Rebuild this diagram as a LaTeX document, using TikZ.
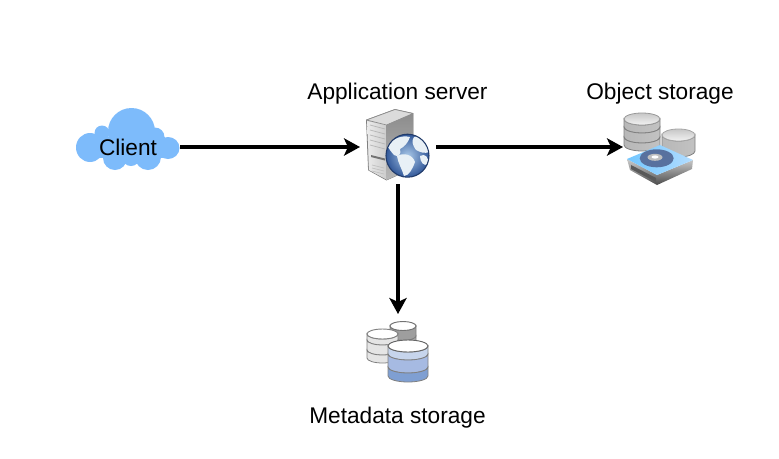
\documentclass[tikz,border=0pt]{standalone}
\usepackage{fontspec}
\setmainfont{Liberation Sans}
\usetikzlibrary{arrows.meta}
\definecolor{cloudblue}{HTML}{7DBBFB}
\definecolor{bandA}{HTML}{C7D5EC}
\definecolor{bandB}{HTML}{A6BAE2}
\definecolor{bandC}{HTML}{7F9FD2}
\definecolor{cont}{HTML}{E8F0F6}
\definecolor{seaIn}{HTML}{A9C8E8}
\definecolor{seaOut}{HTML}{2F5597}
\tikzset{
  lbl/.style={font=\fontsize{17pt}{20pt}\selectfont,text=black,inner sep=0pt},
  iconbox/.style={inner sep=0pt,outer sep=0pt},
  conn/.style={draw=black,line width=2.3pt,-{Stealth[length=12pt,width=13pt,inset=3pt]}},
  cloudlobe/.style={fill=cloudblue},
  silver/.style={left color=black!28,middle color=black!5,right color=black!24},
  flatfill/.style={fill=#1},
}
\newcommand{\myband}[6]{% xl xr ytop ybot ry fill-style
  \pgfmathsetmacro{\rxm}{(#2-#1)/2}
  \path[#6,draw=black!50,line width=.6pt]
    (#1,#3) -- (#1,#4) arc[x radius=\rxm,y radius=-#5,start angle=180,end angle=360] -- (#2,#3)
    arc[x radius=\rxm,y radius=-#5,start angle=360,end angle=180] -- cycle;
}
\begin{document}
\begin{tikzpicture}[x=0.75pt,y=-0.75pt]
\useasboundingbox (0,0) rectangle (779,458);
% ---- cloud
\fill[cloudlobe] (131.5,131.5) circle[radius=23.5];
\fill[cloudlobe] (90,147.5) ellipse[x radius=14,y radius=14.5];
\fill[cloudlobe] (168,148) ellipse[x radius=11.5,y radius=11];
\fill[cloudlobe] (102,133) circle[radius=7.5];
\fill[cloudlobe] (155,137) circle[radius=9.5];
\fill[cloudlobe] (115,158) circle[radius=12];
\fill[cloudlobe] (131,157) circle[radius=9];
\fill[cloudlobe] (148,157) circle[radius=13];
\fill[cloudlobe] (95,137) rectangle (165,158);
% ---- server tower
\path[fill=black!30,draw=black!50,line width=.6pt,line join=round]
  (366.5,120) -- (395,109.5) -- (413,113.5) -- (413,168) -- (386.5,180) -- (368.5,170) -- cycle;
\path[fill=black!14,draw=black!45,line width=.5pt,line join=round]
  (366.5,120) -- (395,109.5) -- (413,113.5) -- (386.5,125) -- cycle;
\path[left color=black!8,right color=black!20] (367.3,121) -- (386.5,125.5) -- (386.5,179.5) -- (369,170) -- cycle;
\path[top color=black!45,bottom color=black!28] (386.5,125) -- (413,113.5) -- (413,168) -- (386.5,180) -- cycle;
\foreach \ya/\yb in {125/129,130/134,135/139,140/144,145/149}{
  \draw[black!30,line width=.5pt] (370,\ya) -- (385,\yb);
}
\path[fill=black!55] (371,155) -- (385,158.5) -- (385,160.5) -- (371,157) -- cycle;
\foreach \ya/\yb in {165/168,168/171,171/174}{
  \draw[black!25,line width=.5pt] (372,\ya) -- (384,\yb);
}
% ---- globe
\begin{scope}
  \clip (407.5,155.7) circle[radius=21.5];
  \shade[inner color=seaIn,outer color=seaOut] (407.5,155.7) circle[radius=22];
  \fill[cont] (388,147) .. controls (392,138) and (402,135) .. (410,137) .. controls (408,143) and (404,147) .. (400,149) .. controls (402,154) and (398,158) .. (394,155) .. controls (392,152) and (389,150) .. (388,147) -- cycle;
  \fill[cont] (414,137) .. controls (420,134) and (428,142) .. (430,152) .. controls (424,154) and (420,152) .. (416,150) .. controls (413,146) and (411,141) .. (414,137) -- cycle;
  \fill[cont] (397,156) .. controls (404,152) and (413,155) .. (415,162) .. controls (413,168) and (409,176) .. (404,176) .. controls (402,169) and (398,163) .. (397,156) -- cycle;
  \fill[cont] (420,156) .. controls (425,153) and (429,157) .. (428,164) .. controls (424,167) and (420,162) .. (420,156) -- cycle;
\end{scope}
\draw[seaOut!70!black,line width=.8pt] (407.5,155.7) circle[radius=21.5];
% ---- object storage
\myband{662}{695}{135}{151}{6}{silver}
\path[top color=black!22,bottom color=black!5,draw=black!35,line width=.6pt] (678.5,135) ellipse[x radius=16.5,y radius=6];
\myband{624}{660}{119}{127}{6}{silver}
\myband{624}{660}{127}{137}{6}{silver}
\myband{624}{660}{137}{145}{6}{silver}
\path[top color=black!22,bottom color=black!5,draw=black!40,line width=.6pt] (642,119) ellipse[x radius=18,y radius=6];
% drive
\path[top color=black!20,bottom color=black!70] (627,159) -- (657,175) -- (693,160) -- (692,169) -- (657,185) -- (630,170) -- cycle;
\path[fill=black!65] (631,165) -- (656,178) -- (656,182) -- (631,169) -- cycle;
\path[left color=cyan!60!blue!55,right color=cyan!55!blue!30] (627,159) -- (660,145) -- (693,160) -- (657,175) -- cycle;
\path[fill=cyan!45!blue!65!black!85] (656.7,158.3) ellipse[x radius=17,y radius=9];
\path[fill=black!25] (655,157.3) ellipse[x radius=7.5,y radius=3.5];
\path[fill=white] (655,157) ellipse[x radius=3.5,y radius=1.6];
% ---- metadata storage
\myband{390}{416}{326}{336}{4.5}{flatfill=black!38}
\myband{390}{416}{336}{348}{4.5}{flatfill=black!32}
\path[fill=white,draw=black!55,line width=.7pt] (403,326) ellipse[x radius=13,y radius=4.5];
\myband{367}{398}{334}{340}{5}{flatfill=black!10}
\myband{367}{398}{340}{350}{5}{flatfill=black!10}
\myband{367}{398}{350}{358}{5}{flatfill=black!10}
\path[fill=white,draw=black!50,line width=.7pt] (382.5,334) ellipse[x radius=15.5,y radius=5];
\myband{388}{428}{346}{354}{6}{flatfill=bandA}
\myband{388}{428}{354}{367}{6}{flatfill=bandB}
\myband{388}{428}{367}{376}{6}{flatfill=bandC}
\path[fill=white,draw=black!60,line width=.7pt] (408,346) ellipse[x radius=20,y radius=6];
% ---- nodes
\node[lbl] (client) at (128,147) [minimum width=78pt,minimum height=30pt,outer sep=0pt] {Client};
\node[iconbox,minimum width=57pt,minimum height=55.5pt] (server) at (398,147) {};
\node[iconbox,minimum width=55.5pt,minimum height=52pt] (object) at (660,147) {};
\node[iconbox,minimum width=48pt,minimum height=52.5pt] (meta) at (398,349) {};
\node[lbl] (applabel) at (397.5,94) {Application server};
\node[lbl] (objlabel) at (660,94) {Object storage};
\node[lbl] (metalabel) at (397.5,418) {Metadata storage};
% ---- connectors
\draw[conn] (client.east) -- (server.west);
\draw[conn] (server.east) -- (object.west);
\draw[conn] (server.south) -- (meta.north);
\end{tikzpicture}
\end{document}
